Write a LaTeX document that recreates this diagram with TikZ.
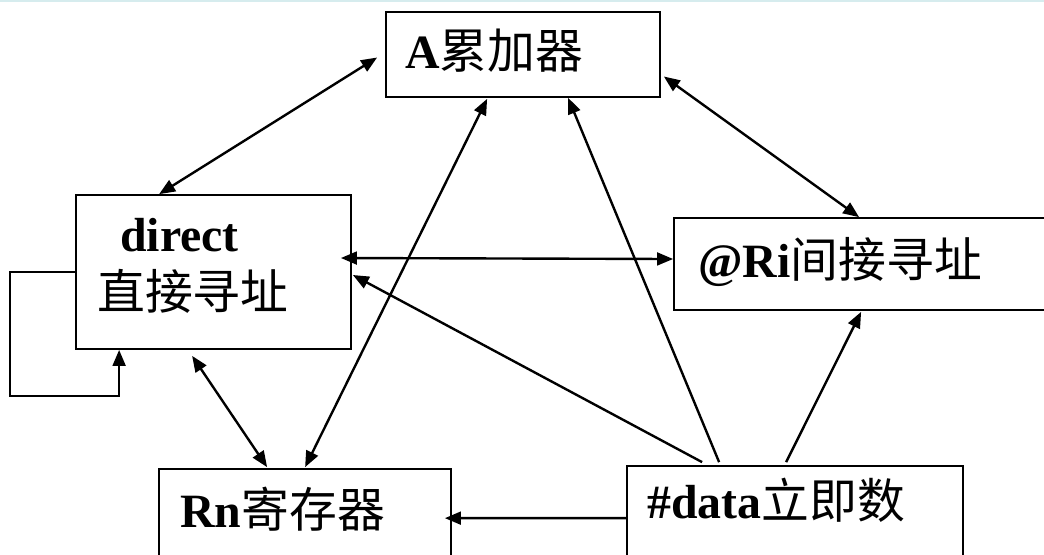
\documentclass[tikz,border=0pt]{standalone}
\usepackage{fontspec}
\setmainfont{Liberation Serif}
\newfontfamily\cjk{Noto Sans CJK SC}
\newcommand\zh[1]{{\cjk\mdseries #1}}
\usetikzlibrary{arrows.meta, calc, positioning}
\definecolor{topline}{RGB}{214,236,238}

\begin{document}
\begin{tikzpicture}[
            x=0.025cm, y=-0.025cm,
            mode/.style={rectangle, draw=black, line width=1.2pt, inner sep=0pt},
            txt/.style={anchor=base west, inner sep=0pt,
            font=\fontsize{34}{40}\selectfont\bfseries},
            arr/.style={draw, line width=1.7pt, -{Triangle[length=0.4cm, width=0.32cm]}},
            biarr/.style={draw, line width=1.7pt,
            {Triangle[length=0.4cm, width=0.32cm]}-{Triangle[length=0.4cm, width=0.32cm]}}
        ]
\useasboundingbox (0,0) rectangle (1044,554);
\fill[topline] (0,0) rectangle (1044,2);

% ----- Kaesten -----
            \node[mode, minimum width=6.85cm, minimum height=2.125cm] (acc) at (523,54.5) {};
            \node[mode, minimum width=6.875cm, minimum height=3.85cm] (direct) at (213.5,272) {};
            \node[mode, minimum width=10.15cm, minimum height=2.3cm] (ri) at (877,264) {};
            \node[mode, minimum width=7.3cm, minimum height=3.775cm] (rn) at (305,544.5) {};
            \node[mode, minimum width=8.4cm, minimum height=3.85cm] (imm) at (795,543) {};

% ----- Texte -----
            \node[txt] (accT) at (405,68) {A\zh{累加器}};
            \node[txt] (dirT) at (120,251) {direct};
            \node[txt] (dirZ) at (97,309) {\zh{直接寻址}};
            \node[txt] (riT) at (698,277) {@Ri\zh{间接寻址}};
            \node[txt] (rnT) at (180,527) {Rn\zh{寄存器}};
            \node[txt] (immT) at (647,518) {\#data\zh{立即数}};

% ----- Kanten -----
            \draw[biarr] ($(direct.north west)+(84,0)$) -- ($(acc.west)+(-8,3)$);
            \draw[biarr] ($(acc.east)+(3,22)$) -- ($(ri.north west)+(186,0)$);
            \draw[biarr] ($(ri.west)+(0,-5)$) -- ($(direct.east)+(-11,-14)$);
            \draw[biarr] ($(rn.north west)+(147,-1)$) -- ($(acc.south west)+(102,1)$);
            \draw[biarr] ($(direct.south west)+(117,6)$) -- ($(rn.north west)+(109,-1)$);

% vom Immediate-Kasten
            \draw[arr] ($(imm.north west)+(76,-3)$) -- ($(direct.east)+(1,3)$);
            \draw[arr] ($(imm.north west)+(93,-3)$) -- ($(acc.south west)+(183,0)$);
            \draw[arr] ($(imm.north west)+(160,-3)$) -- ($(ri.south west)+(188,1)$);
            \draw[arr] ($(imm.north west)+(0,53)$) -- ($(rn.north east)+(-7,50)$);

% Selbstschleife
            \draw[arr] (direct.west) -- ++(-65,0) |- ($(direct.south west)+(44,46)$)
                -- ($(direct.south west)+(44,0)$);

\end{tikzpicture}
\end{document}
